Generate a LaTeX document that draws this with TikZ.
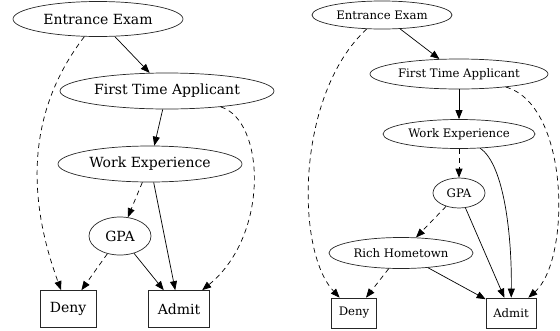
\documentclass[tikz,border=0pt]{standalone}
\usepackage{fontspec}
\setmainfont{DejaVu Serif}
\usetikzlibrary{shapes.geometric,arrows.meta}
\tikzset{
  ell/.style={ellipse, draw=black!85, line width=0.7pt, inner sep=0pt},
  boxn/.style={rectangle, draw=black!85, line width=0.7pt, inner sep=0pt},
  bigt/.style={font=\fontsize{14}{16}\selectfont},
  smallt/.style={font=\fontsize{11.7}{13}\selectfont},
  edge/.style={line width=0.7pt, -{Triangle[length=9pt,width=7pt]}},
  dedge/.style={edge, dash pattern=on 5pt off 4pt},
}
\begin{document}
\begin{tikzpicture}[x=1pt,y=-1pt]
\useasboundingbox (0,0) rectangle (560,330);
% left graph
\node[ell,bigt,minimum width=170pt,minimum height=35pt] (ee1) at (98,19) {Entrance Exam};
\node[ell,bigt,minimum width=214pt,minimum height=36pt] (fta1) at (167,91) {First Time Applicant};
\node[ell,bigt,minimum width=184pt,minimum height=36pt] (we1) at (150,164) {Work Experience};
\node[ell,bigt,minimum width=62pt,minimum height=38pt] (gpa1) at (120,236) {GPA};
\node[boxn,bigt,minimum width=56pt,minimum height=37pt] (deny1) at (68,309) {Deny};
\node[boxn,bigt,minimum width=61pt,minimum height=37pt] (admit1) at (179,309) {Admit};
\draw[edge] (ee1) -- (fta1);
\draw[dedge] (ee1) .. controls (20,120) and (32,211) .. (deny1);
\draw[edge] (fta1) -- (we1);
\draw[dedge] (fta1) .. controls (265,120) and (270,235) .. (admit1);
\draw[dedge] (we1) -- (gpa1);
\draw[edge] (we1) -- (admit1);
\draw[dedge] (gpa1) -- (deny1);
\draw[edge] (gpa1) -- (admit1);
% right graph
\node[ell,smallt,minimum width=140pt,minimum height=28pt] (ee2) at (382,15) {Entrance Exam};
\node[ell,smallt,minimum width=178pt,minimum height=30pt] (fta2) at (459,74) {First Time Applicant};
\node[ell,smallt,minimum width=152pt,minimum height=29pt] (we2) at (459,134) {Work Experience};
\node[ell,smallt,minimum width=52pt,minimum height=30pt] (gpa2) at (459,193) {GPA};
\node[ell,smallt,minimum width=144pt,minimum height=31pt] (rh2) at (401,253) {Rich Hometown};
\node[boxn,smallt,minimum width=45pt,minimum height=30pt] (deny2) at (354,313) {Deny};
\node[boxn,smallt,minimum width=50pt,minimum height=30pt] (admit2) at (511,313) {Admit};
\draw[edge] (ee2) -- (fta2);
\draw[dedge] (ee2) .. controls (296,94) and (295,250) .. (deny2);
\draw[edge] (fta2) -- (we2);
\draw[dedge] (fta2) .. controls (570,105) and (571,260) .. (admit2);
\draw[dedge] (we2) -- (gpa2);
\draw[edge] (we2) .. controls (505,165) and (512,240) .. (admit2);
\draw[dedge] (gpa2) -- (rh2);
\draw[edge] (gpa2) -- (admit2);
\draw[dedge] (rh2) -- (deny2);
\draw[edge] (rh2) -- (admit2);
\end{tikzpicture}
\end{document}
